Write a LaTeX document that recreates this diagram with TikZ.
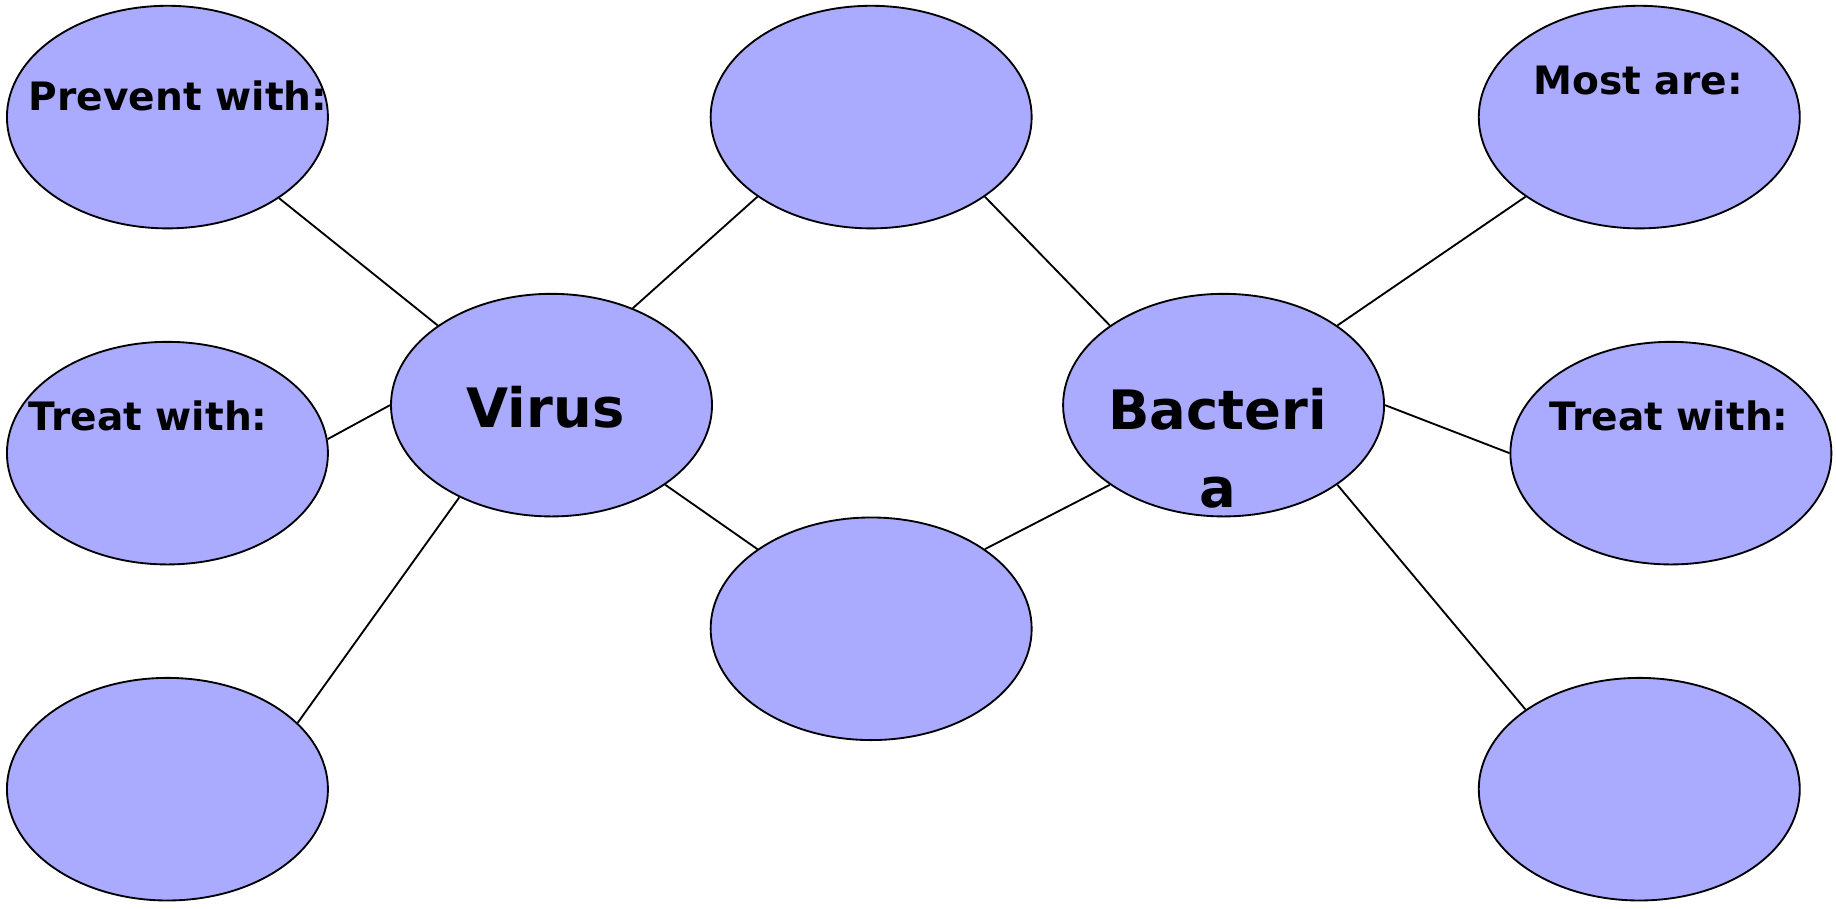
\documentclass[tikz,border=0pt]{standalone}
\usepackage{fontspec}
\setmainfont{DejaVu Sans}
\definecolor{bubble}{RGB}{170,170,255}
\tikzset{
  bub/.style={draw, ellipse, fill=bubble, line width=.45pt, inner sep=0pt,
    minimum width=2.74cm, minimum height=1.9cm},
  small/.style={font=\fontsize{9.5}{11}\selectfont\bfseries, inner sep=0pt},
  big/.style={font=\fontsize{13.2}{18.8}\selectfont\bfseries, inner sep=0pt}
}
\usetikzlibrary{shapes.geometric}
\begin{document}
\begin{tikzpicture}[x=0.01cm,y=-0.01cm]
\useasboundingbox (0,0) rectangle (1568,776);
\node (tl) at (143,100) [bub] {};
\node (ml) at (143,387) [bub] {};
\node (bl) at (143,674) [bub] {};
\node (vir) at (471,346) [bub] {};
\node (tm) at (744,100) [bub] {};
\node (bm) at (744,537) [bub] {};
\node (bac) at (1045,346) [bub] {};
\node (tr) at (1400,100) [bub] {};
\node (mr) at (1427,387) [bub] {};
\node (br) at (1400,674) [bub] {};

\node (prev) at (24,94) [small, anchor=base west] {Prevent with:};
\node (treatl) at (24,368) [small, anchor=base west] {Treat with:};
\node (most) at (1309,81) [small, anchor=base west] {Most are:};
\node (treatr) at (1323,368) [small, anchor=base west] {Treat with:};
\node (virtxt) at (398,365) [big, anchor=base west] {Virus};
\node (bactxt) at (1040,433) [big, anchor=base, align=center] {Bacteri\\a};

\draw[line width=.45pt]
(tl.324) to (vir.145)
(ml.5) to (vir.180)
(bl.27) to (vir.225)
(vir.50) to (tm.215)
(vir.325) to (bm.145)
(tm.325) to (bac.145)
(bm.35) to (bac.215)
(bac.35) to (tr.215)
(bac.0) to (mr.180)
(bac.325) to (br.145);
\end{tikzpicture}
\end{document}
